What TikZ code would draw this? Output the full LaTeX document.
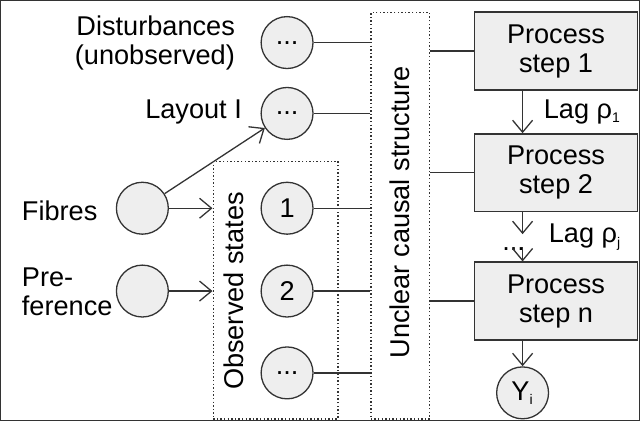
\documentclass[tikz,border=0pt]{standalone}
\usepackage{fontspec}
\setmainfont{Liberation Sans}
\usetikzlibrary{arrows.meta}
\definecolor{boxfill}{HTML}{EEEEEE}
\definecolor{linegray}{HTML}{333333}
\begin{document}
\begin{tikzpicture}[x=0.5pt, y=-0.5pt,
    font=\fontsize{13.6}{14.5}\selectfont,
    >={Straight Barb[length=6pt,width=10pt]},
    every path/.style={draw=linegray, line width=0.65pt},
    state/.style={circle, draw, fill=boxfill, minimum size=26pt, inner sep=0pt},
    procbox/.style={rectangle, draw, fill=boxfill, minimum width=81.5pt, minimum height=39pt, align=center},
    group/.style={rectangle, draw, dash pattern=on 0.7pt off 1.1pt, line width=0.7pt, inner sep=0pt}]
  \useasboundingbox (0,0) rectangle (640,421);

  % Dotted groups
  \node[group, minimum width=62.5pt, minimum height=129pt] (obs) at (275.5,290) {};
  \node[group, minimum width=29.5pt, minimum height=203.5pt] (unc) at (400.5,215.5) {};
  \node[rotate=90] (obslabel) at (234,291) {Observed states};
  \node[rotate=90] (unclabel) at (400,212) {Unclear causal structure};

  % Inputs
  \node[state] (dist) at (287,42) {...};
  \node[state] (lay) at (287,113) {...};
  \node[state] (fib) at (142,208) {};
  \node[state] (pref) at (142,291) {};
  \node[state] (o1) at (287,208) {1};
  \node[state] (o2) at (287,291) {2};
  \node[state] (on) at (287,373) {...};

  % Input labels
  \node[anchor=east, align=right] (distlabel) at (242,42) {Disturbances\\(unobserved)};
  \node[anchor=east] (laylabel) at (249,112) {Layout I};
  \node[anchor=west] (fiblabel) at (14,211) {Fibres};
  \node[anchor=west, align=left] (preflabel) at (14,292) {Pre-\\ference};

  % Process steps
  \node[procbox] (s1) at (556.5,50.5) {Process\\step 1};
  \node[procbox] (s2) at (556.5,172.5) {Process\\step 2};
  \node[procbox] (sn) at (556.5,301) {Process\\step n};
  \node[state] (y) at (523,393) {Y\textsubscript{\scriptsize i}};

  % Arrows between steps
  \coordinate (gaptop) at (523,234);
  \coordinate (gapbot) at (523,247);
  \node (dots) at (514,249) {...};
  \draw[->] (s1.south -| y) -- (s2.north -| y) node[midway, right=7pt] {Lag ρ\textsubscript{\scriptsize 1}};
  \draw[->] (s2.south -| y) -- (gaptop);
  \draw[->] (gapbot) -- (sn.north -| y);
  \node[anchor=west] (lagj) at (542,237) {Lag ρ\textsubscript{\scriptsize j}};
  \draw[->] (sn.south -| y) -- (y);

  % Fibres and preference
  \draw[->] (fib) -- (lay);
  \draw[->] (fib) -- (fib -| obs.west);
  \draw[->] (pref) -- (pref -| obs.west);

  % Into the unclear structure
  \draw (dist) -- (dist -| unc.west);
  \draw (lay) -- (lay -| unc.west);
  \draw (o1) -- (o1 -| unc.west);
  \draw (o2) -- (o2 -| unc.west);
  \draw (on) -- (on -| unc.west);

  % Out to the process steps
  \draw (unc.east |- s1) -- (s1);
  \draw (unc.east |- s2) -- (s2);
  \draw (unc.east |- sn) -- (sn);
\end{tikzpicture}
\end{document}
